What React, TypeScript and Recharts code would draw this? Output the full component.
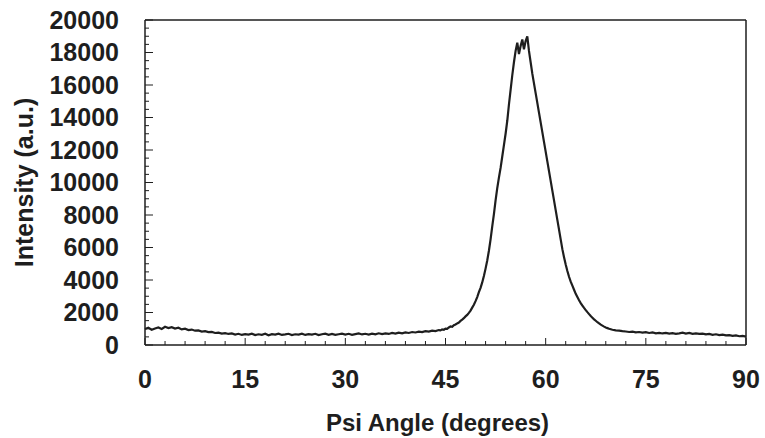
import React from 'react';
import { LineChart, Line, XAxis, YAxis, ReferenceLine } from 'recharts';

// psi angle (degrees); finer steps across the peak
const angles = [
  0, 0.5, 1, 1.5, 2, 2.5, 3, 3.5, 4, 4.5, 5, 5.5, 6, 6.5, 7, 7.5, 8, 8.5, 9, 9.5,
  10, 10.5, 11, 11.5, 12, 12.5, 13, 13.5, 14, 14.5, 15, 15.5, 16, 16.5, 17, 17.5, 18, 18.5, 19, 19.5,
  20, 20.5, 21, 21.5, 22, 22.5, 23, 23.5, 24, 24.5, 25, 25.5, 26, 26.5, 27, 27.5, 28, 28.5, 29, 29.5,
  30, 30.5, 31, 31.5, 32, 32.5, 33, 33.5, 34, 34.5, 35, 35.5, 36, 36.5, 37, 37.5, 38, 38.5, 39, 39.5,
  40, 40.5, 41, 41.5, 42, 42.5, 43, 43.5,
  44, 44.25, 44.5, 44.75, 45, 45.25, 45.5, 45.75, 46, 46.25, 46.5, 46.75, 47, 47.25, 47.5, 47.75,
  48, 48.25, 48.5, 48.75, 49, 49.25, 49.5, 49.75, 50, 50.25, 50.5, 50.75, 51, 51.25, 51.5, 51.75,
  52, 52.25, 52.5, 52.75, 53, 53.25, 53.5, 53.75, 54, 54.25, 54.5, 54.75, 55, 55.25, 55.5, 55.75,
  56, 56.25, 56.5, 56.75, 57, 57.25, 57.5, 57.75, 58, 58.25, 58.5, 58.75, 59, 59.25, 59.5, 59.75,
  60, 60.25, 60.5, 60.75, 61, 61.25, 61.5, 61.75, 62, 62.25, 62.5, 62.75, 63, 63.25, 63.5, 63.75,
  64, 64.25, 64.5, 64.75, 65, 65.25, 65.5, 65.75, 66, 66.25, 66.5, 66.75, 67, 67.25, 67.5, 67.75,
  68, 68.25, 68.5, 68.75, 69, 69.25, 69.5, 69.75, 70,
  70.5, 71, 71.5, 72, 72.5, 73, 73.5, 74, 74.5, 75, 75.5, 76, 76.5, 77, 77.5, 78, 78.5, 79, 79.5,
  80, 80.5, 81, 81.5, 82, 82.5, 83, 83.5, 84, 84.5, 85, 85.5, 86, 86.5, 87, 87.5, 88, 88.5, 89, 89.5, 90,
];

// intensity (a.u.)
const intensity = [
  980, 1060, 940, 1020, 1080, 990, 1120, 1040, 1100, 1010, 1060, 960, 1000, 920, 950, 880, 900, 830, 850, 790,
  810, 740, 760, 700, 730, 680, 710, 640, 690, 620, 670, 640, 700, 610, 660, 630, 690, 600, 670, 640,
  700, 620, 650, 690, 610, 660, 640, 700, 620, 670, 640, 690, 610, 660, 700, 630, 680, 620, 660, 700,
  640, 690, 630, 670, 710, 650, 690, 640, 700, 660, 720, 670, 710, 680, 740, 700, 760, 720, 780, 740,
  800, 770, 820, 790, 850, 820, 880, 860,
  920, 900, 960, 940, 1010, 990, 1080, 1140, 1120, 1220, 1260, 1330, 1380, 1480, 1560, 1650,
  1760, 1850, 1980, 2120, 2300, 2480, 2700, 2950, 3250, 3520, 3850, 4250, 4700, 5200, 5800, 6500,
  7300, 8050, 8900, 9650, 10300, 10900, 11600, 12300, 13000, 13800, 14800, 15700, 16600, 17400, 18100, 18600,
  17900, 18400, 18800, 18200, 18700, 19000, 18100, 17400, 16700, 16100, 15500, 14900, 14300, 13700, 13100, 12500,
  11900, 11300, 10700, 10100, 9500, 8900, 8300, 7700, 7100, 6500, 5900, 5400, 4950, 4550, 4200, 3900,
  3650, 3400, 3150, 2950, 2750, 2580, 2430, 2280, 2150, 2020, 1900, 1780, 1680, 1580, 1490, 1400,
  1330, 1250, 1190, 1130, 1080, 1040, 1000, 970, 940,
  900, 880, 850, 830, 800, 820, 780, 800, 760, 790, 740, 770, 720, 750, 710, 740, 700, 730, 690,
  720, 760, 700, 740, 690, 720, 680, 700, 650, 680, 630, 660, 610, 640, 590, 610, 560, 590, 540, 560, 520,
];

// every tick drawn on the axes; only the majors get a label
const xTicks = [0, 3, 6, 9, 12, 15, 18, 21, 24, 27, 30, 33, 36, 39, 42, 45, 48, 51, 54, 57, 60, 63, 66, 69, 72, 75, 78, 81, 84, 87, 90];
const yTicks = [
  0, 500, 1000, 1500, 2000, 2500, 3000, 3500, 4000, 4500, 5000, 5500, 6000, 6500, 7000, 7500, 8000, 8500, 9000, 9500,
  10000, 10500, 11000, 11500, 12000, 12500, 13000, 13500, 14000, 14500, 15000, 15500, 16000, 16500, 17000, 17500,
  18000, 18500, 19000, 19500, 20000,
];

const data = angles.map((a, i) => ({ angle: a, value: intensity[i] }));

const FONT = "'Liberation Sans', Arial, sans-serif";
const INK = '#1e1e1e';
const X_MARGIN = 25;
const Y_MARGIN = 26;

const XTick = ({ x, y, payload }: any) => {
  const v = payload.value;
  const major = v % 15 === 0;
  const axisY = y - X_MARGIN;
  return (
    <g>
      <line x1={x} x2={x} y1={axisY} y2={axisY - (major ? 7 : 4)} stroke={INK} strokeWidth={1} />
      {major && (
        <text x={x} y={y} dy="0.71em" textAnchor="middle" fill={INK} fontSize={25} fontWeight={700} fontFamily={FONT}>
          {v}
        </text>
      )}
    </g>
  );
};

const YTick = ({ x, y, payload }: any) => {
  const v = payload.value;
  const major = v % 2000 === 0;
  const axisX = x + Y_MARGIN;
  return (
    <g>
      <line x1={axisX} x2={axisX + (major ? 8 : 4)} y1={y} y2={y} stroke={INK} strokeWidth={1} />
      {major && (
        <text x={x} y={y} dy="0.355em" textAnchor="end" fill={INK} fontSize={25} fontWeight={700} fontFamily={FONT}>
          {v}
        </text>
      )}
    </g>
  );
};

export default function App() {
  return (
    <div style={{ position: 'absolute', left: 0, top: 0, width: 765, height: 438, background: '#fff' }}>
      <LineChart width={765} height={438} data={data} margin={{ top: 20, right: 19, bottom: 0, left: 0 }}>
        <XAxis
          dataKey="angle"
          type="number"
          domain={[0, 90]}
          ticks={xTicks}
          interval={0}
          tickLine={false}
          tickSize={0}
          tickMargin={X_MARGIN}
          height={93}
          stroke={INK}
          strokeWidth={1.5}
          tick={XTick}
          label={{
            value: 'Psi Angle (degrees)',
            position: 'insideBottom',
            offset: 7,
            dx: -8,
            style: { fill: INK, fontSize: 24, fontWeight: 700, fontFamily: FONT },
          }}
        />
        <YAxis
          type="number"
          domain={[0, 20000]}
          ticks={yTicks}
          interval={0}
          width={145}
          tickLine={false}
          tickSize={0}
          tickMargin={Y_MARGIN}
          stroke={INK}
          strokeWidth={1.5}
          tick={YTick}
          label={{
            value: 'Intensity (a.u.)',
            angle: -90,
            position: 'insideLeft',
            offset: 24,
            style: { textAnchor: 'middle', fill: INK, fontSize: 25, fontWeight: 700, fontFamily: FONT },
          }}
        />
        <ReferenceLine y={20000} stroke={INK} strokeWidth={1.5} />
        <ReferenceLine x={90} stroke={INK} strokeWidth={1.5} />
        <Line
          type="linear"
          dataKey="value"
          stroke={INK}
          strokeWidth={2.2}
          dot={false}
          isAnimationActive={false}
        />
      </LineChart>
    </div>
  );
}
